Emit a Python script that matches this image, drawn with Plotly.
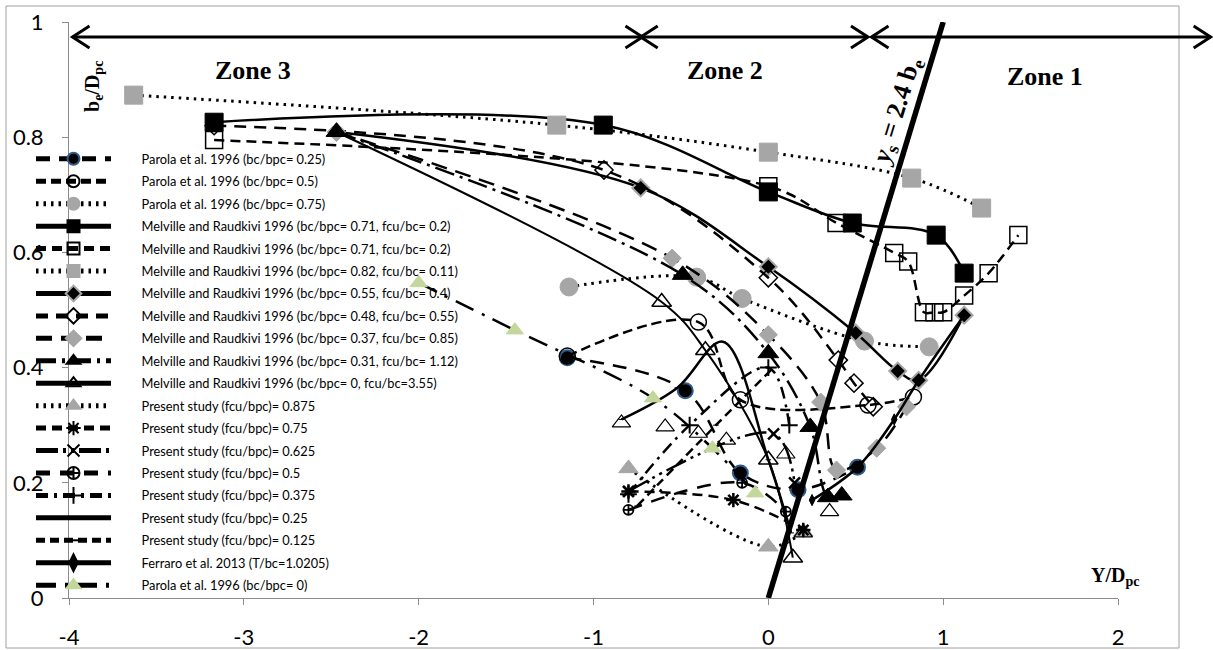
import plotly.graph_objects as go

# ---------------- data ----------------
parola_025_x = [-1.15, -0.475, -0.16, 0.17, 0.51]
parola_025_y = [0.417, 0.36, 0.217, 0.188, 0.227]
parola_05_x = [-1.15, -0.40, -0.16, 0.57, 0.83]
parola_05_y = [0.42, 0.479, 0.344, 0.335, 0.349]
parola_075_x = [-1.14, -0.41, -0.15, 0.55, 0.92]
parola_075_y = [0.54, 0.557, 0.52, 0.446, 0.436]
mr_071a_x = [-3.17, -0.944, 0.0, 0.48, 0.96, 1.12]
mr_071a_y = [0.826, 0.821, 0.705, 0.651, 0.63, 0.564]
mr_071b_x = [-3.17, 0.0, 0.39, 0.72, 0.80, 0.89, 0.95, 1.0, 1.12, 1.26, 1.43]
mr_071b_y = [0.795, 0.715, 0.651, 0.599, 0.584, 0.496, 0.496, 0.496, 0.525, 0.564, 0.63]
mr_082_x = [-3.63, -1.21, 0.0, 0.82, 1.22]
mr_082_y = [0.873, 0.821, 0.774, 0.729, 0.677]
mr_055_x = [-2.47, -0.73, 0.0, 0.5, 0.74, 0.86, 1.12]
mr_055_y = [0.809, 0.712, 0.575, 0.46, 0.394, 0.378, 0.491]
mr_048_x = [-3.17, -0.94, 0.0, 0.40, 0.49, 0.60]
mr_048_y = [0.82, 0.743, 0.556, 0.413, 0.373, 0.332]
mr_037_x = [-2.47, -0.55, 0.0, 0.30, 0.39, 0.62, 0.79]
mr_037_y = [0.809, 0.59, 0.457, 0.34, 0.222, 0.26, 0.332]
mr_031_x = [-2.47, -0.49, 0.0, 0.24, 0.34, 0.42]
mr_031_y = [0.809, 0.561, 0.425, 0.297, 0.175, 0.178]
mr_0_x = [-2.47, -0.61, -0.36, 0.0, 0.14]
mr_0_y = [0.809, 0.514, 0.43, 0.24, 0.07]
ps_0875_x = [-0.80, 0.0, 0.20]
ps_0875_y = [0.225, 0.089, 0.115]
ps_0875_extra_x = [-0.84, -0.59, -0.40, -0.24, 0.10, 0.20, 0.35]
ps_0875_extra_y = [0.304, 0.297, 0.286, 0.274, 0.25, 0.113, 0.15]
ps_075_x = [-0.80, -0.20, 0.20]
ps_075_y = [0.185, 0.17, 0.118]
ps_0625_x = [-0.80, 0.03, 0.15]
ps_0625_y = [0.185, 0.285, 0.20]
ps_05_x = [-0.80, -0.15, 0.10]
ps_05_y = [0.153, 0.20, 0.15]
ps_0375_x = [-0.80, -0.45, 0.0, 0.12]
ps_0375_y = [0.18, 0.30, 0.40, 0.30]
ps_025_x = [-0.84, -0.52, -0.26, 0.0, 0.13]
ps_025_y = [0.31, 0.365, 0.445, 0.24, 0.113]
ps_0125_x = [-0.75, -0.30, 0.03]
ps_0125_y = [0.16, 0.30, 0.40]
ferraro_x = [0.25, 0.51, 0.72, 0.86, 1.12]
ferraro_y = [0.17, 0.227, 0.31, 0.378, 0.491]
parola_0_x = [-2.0, -1.45, -0.66, -0.32, -0.075]
parola_0_y = [0.547, 0.465, 0.347, 0.26, 0.182]
ys_line_x = [0.0, 1.0]
ys_line_y = [0.0, 1.0]

x_tick_vals = [-4, -3, -2, -1, 0, 1, 2]
x_tick_text = ["-4", "-3", "-2", "-1", "0", "1", "2"]
y_tick_vals = [0, 0.2, 0.4, 0.6, 0.8, 1]
y_tick_text = ["0", "0.2", "0.4", "0.6", "0.8", "1"]

zone_arrows = [(-3.98, -0.72), (-0.73, 0.57), (0.59, 2.53)]
arrow_y = 0.974
zone_labels = ["Zone 3", "Zone 2", "Zone 1"]
zone_label_x = [-2.95, -0.25, 1.58]
zone_label_y = [0.915, 0.915, 0.905]

X_RANGE = [-4, 2]
Y_RANGE = [0, 1]

GREY = "#A6A6A6"
BLUE = "#2E5C8A"
GREEN = "#C4D79B"

PAD = "\u2003\u2003\u2002"  # gap between legend symbol and label

fig = go.Figure()


def add(name, x, y, dash, width, symbol, msize, mcolor, mlc, mlw, shape="spline"):
    fig.add_trace(go.Scatter(
        x=x, y=y, name=PAD + name, mode="lines+markers", legendgroup=name,
        line=dict(color="black", width=width, dash=dash, shape=shape, smoothing=1),
        marker=dict(symbol=symbol, size=msize, color=mcolor,
                    line=dict(color=mlc, width=mlw)),
    ))


add("Parola et al. 1996 (bc/bpc= 0.25)", parola_025_x, parola_025_y, "14px,9px", 2.5,
    "circle", 15, "black", BLUE, 2)
add("Parola et al. 1996 (bc/bpc= 0.5)", parola_05_x, parola_05_y, "10px,5px", 2.5,
    "circle-open", 16, "black", "black", 1.5)
add("Parola et al. 1996 (bc/bpc= 0.75)", parola_075_x, parola_075_y, "2.5px,5px", 3,
    "circle", 18, GREY, GREY, 1)
add("Melville and Raudkivi 1996 (bc/bpc= 0.71, fcu/bc= 0.2)", mr_071a_x, mr_071a_y, "solid", 2.5,
    "square", 18, "black", "black", 1)
add("Melville and Raudkivi 1996 (bc/bpc= 0.71, fcu/bc= 0.2) ", mr_071b_x, mr_071b_y, "10px,6px", 2.5,
    "square-open", 17, "black", "black", 1.5)
add("Melville and Raudkivi 1996 (bc/bpc= 0.82, fcu/bc= 0.11)", mr_082_x, mr_082_y, "2.5px,5px", 3,
    "square", 18, GREY, GREY, 1)
add("Melville and Raudkivi 1996 (bc/bpc= 0.55, fcu/bc= 0.4)", mr_055_x, mr_055_y, "solid", 2.5,
    "diamond", 13, "black", GREY, 2)
add("Melville and Raudkivi 1996 (bc/bpc= 0.48, fcu/bc= 0.55)", mr_048_x, mr_048_y, "12px,8px", 2.5,
    "diamond-open", 14, "black", "black", 1.5)
add("Melville and Raudkivi 1996 (bc/bpc= 0.37, fcu/bc= 0.85)", mr_037_x, mr_037_y, "16px,9px", 2.5,
    "diamond", 14, GREY, GREY, 1)
add("Melville and Raudkivi 1996 (bc/bpc= 0.31, fcu/bc= 1.12)", mr_031_x, mr_031_y, "20px,6px,3px,6px", 2.5,
    "triangle-up", 18, "black", "black", 1)
add("Melville and Raudkivi 1996 (bc/bpc= 0, fcu/bc=3.55)", mr_0_x, mr_0_y, "solid", 2,
    "triangle-up-open", 17, "black", "black", 1.5)
add("Present study (fcu/bpc)= 0.875", ps_0875_x, ps_0875_y, "2.5px,5px", 3,
    "triangle-up", 17, GREY, GREY, 1)
fig.add_trace(go.Scatter(
    x=ps_0875_extra_x, y=ps_0875_extra_y, mode="markers", showlegend=False,
    legendgroup="Present study (fcu/bpc)= 0.875",
    marker=dict(symbol="triangle-up-open", size=16, color="black", line=dict(width=1.2, color="black")),
))
add("Present study (fcu/bpc)= 0.75", ps_075_x, ps_075_y, "10px,6px", 2.5,
    "asterisk-open", 12, "black", "black", 2.5)
add("Present study (fcu/bpc)= 0.625", ps_0625_x, ps_0625_y, "22px,5px,3px,5px,3px,5px", 2.5,
    "x-thin-open", 11, "black", "black", 2.5)
add("Present study (fcu/bpc)= 0.5", ps_05_x, ps_05_y, "14px,10px", 2.5,
    "circle-cross-open", 10, "black", "black", 1.8)
add("Present study (fcu/bpc)= 0.375", ps_0375_x, ps_0375_y, "12px,6px,3px,6px", 2.5,
    "cross-thin-open", 12, "black", "black", 2)
add("Present study (fcu/bpc)= 0.25", ps_025_x, ps_025_y, "solid", 2.5,
    "line-ew", 4, "black", "black", 1)
add("Present study (fcu/bpc)= 0.125", ps_0125_x, ps_0125_y, "9px,5px", 2.5,
    "line-ew", 4, "black", "black", 1)
add("Ferraro et al. 2013 (T/bc=1.0205)", ferraro_x, ferraro_y, "solid", 2.5,
    "diamond-tall", 8, "black", "black", 1)
add("Parola et al. 1996 (bc/bpc= 0)", parola_0_x, parola_0_y, "20px,9px,3px,9px", 2.5,
    "triangle-up", 15, GREEN, GREEN, 1)

# Ys = 2.4 be boundary line
fig.add_trace(go.Scatter(x=ys_line_x, y=ys_line_y, mode="lines", showlegend=False,
                         line=dict(color="black", width=5.5), hoverinfo="skip"))

# ---------------- geometry helpers ----------------
L, R, T, B = 69, 95, 22, 52
W, H = 1213, 650
PW, PH = W - L - R, H - T - B


def px_paper(xv):
    return (xv - X_RANGE[0]) / (X_RANGE[1] - X_RANGE[0])


shapes = []
# outer chart border
shapes.append(dict(type="rect", xref="paper", yref="paper",
                   x0=(6 - L) / PW, x1=(1179 - L) / PW,
                   y0=(H - B - 648) / PH, y1=(H - B - 6) / PH,
                   line=dict(color="#A0A0A0", width=1), fillcolor="rgba(0,0,0,0)", layer="below"))
hx = 17 / PW
hy = 11 / PH
for (a, b) in zone_arrows:
    xa, xb = px_paper(a), px_paper(b)
    shapes.append(dict(type="line", xref="paper", yref="paper", x0=xa, x1=xb, y0=arrow_y, y1=arrow_y,
                       line=dict(color="black", width=3)))
    shapes.append(dict(type="path", xref="paper", yref="paper",
                       path=f"M {xa + hx},{arrow_y + hy} L {xa},{arrow_y} L {xa + hx},{arrow_y - hy}",
                       line=dict(color="black", width=3)))
    shapes.append(dict(type="path", xref="paper", yref="paper",
                       path=f"M {xb - hx},{arrow_y + hy} L {xb},{arrow_y} L {xb - hx},{arrow_y - hy}",
                       line=dict(color="black", width=3)))

serif = "Liberation Serif"
annotations = []
for t, xv, yv in zip(zone_labels, zone_label_x, zone_label_y):
    annotations.append(dict(x=xv, y=yv, xref="x", yref="y", text=f"<b>{t}</b>", showarrow=False,
                            font=dict(family=serif, size=26, color="black")))
annotations.append(dict(x=0.74, y=0.845, xref="x", yref="y",
                        text="<b><i>y</i><sub>s</sub> = 2.4 b<sub>e</sub></b>", showarrow=False,
                        textangle=-73, font=dict(family=serif, size=26, color="black")))
annotations.append(dict(x=-3.86, y=0.888, xref="x", yref="y",
                        text="<b>b<sub>e</sub>/D<sub>pc</sub></b>", showarrow=False,
                        textangle=-90, font=dict(family=serif, size=20, color="black")))
annotations.append(dict(x=1.985, y=0.037, xref="x", yref="y",
                        text="<b>Y/D<sub>pc</sub></b>", showarrow=False,
                        font=dict(family=serif, size=20, color="black")))

fig.update_layout(
    width=W, height=H,
    margin=dict(l=L, r=R, t=T, b=B, pad=0),
    paper_bgcolor="white", plot_bgcolor="white",
    font=dict(family="Lato", color="black"),
    showlegend=True,
    legend=dict(x=(31 - L) / PW, y=(H - B - 144) / PH, xanchor="left", yanchor="top",
                bgcolor="rgba(0,0,0,0)", font=dict(family="Lato", size=12.8, color="black"),
                tracegroupgap=2.8, itemsizing="constant", itemwidth=75, traceorder="grouped"),
    xaxis=dict(range=X_RANGE, tickvals=x_tick_vals, ticktext=x_tick_text, showgrid=False, zeroline=False,
               showline=True, linecolor="#8C8C8C", linewidth=1, ticks="outside", ticklen=6,
               tickcolor="#8C8C8C", tickfont=dict(family="Lato", size=22, color="black"),
               ticklabelstandoff=14, automargin=False),
    yaxis=dict(range=Y_RANGE, tickvals=y_tick_vals, ticktext=y_tick_text, showgrid=False, zeroline=False,
               showline=True, linecolor="#8C8C8C", linewidth=1, ticks="outside", ticklen=6,
               tickcolor="#8C8C8C", tickfont=dict(family="Lato", size=22, color="black"),
               ticklabelstandoff=14, automargin=False),
    shapes=shapes, annotations=annotations,
)

fig.write_html("out.html", config={"displayModeBar": False},
               post_script="document.body.style.margin='0px';")
